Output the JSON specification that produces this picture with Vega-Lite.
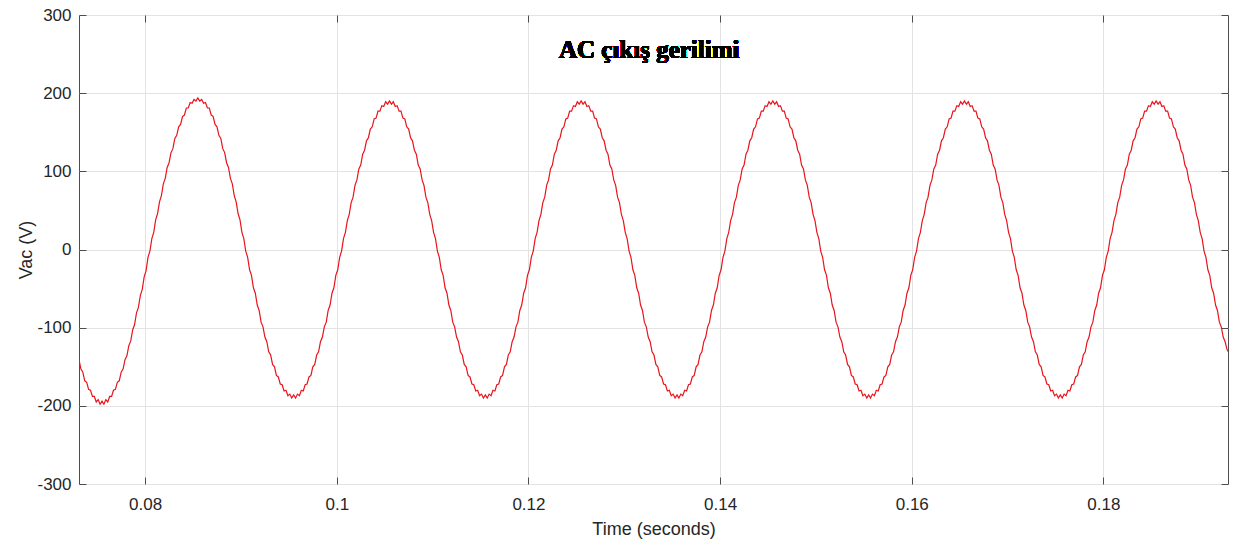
{
  "$schema": "https://vega.github.io/schema/vega-lite/v6.json",
  "width": 1149,
  "height": 469,
  "autosize": {"type": "none"},
  "padding": {"left": 79, "top": 15, "right": 9, "bottom": 62},
  "background": "white",
  "config": {
    "view": {"stroke": "#4d4d4d", "strokeWidth": 1},
    "axis": {
      "labelFont": "Liberation Sans",
      "labelFontSize": 17,
      "labelColor": "#262626",
      "titleFont": "Liberation Sans",
      "titleFontSize": 18,
      "titleFontWeight": "normal",
      "titleColor": "#262626",
      "gridColor": "#e3e3e3",
      "gridWidth": 1,
      "tickColor": "#4d4d4d",
      "tickSize": -7,
      "domain": false
    }
  },
  "data": {"values": [
    {"t":0.0731,"v":-141},{"t":0.0733,"v":-153},{"t":0.0735,"v":-157},{"t":0.0737,"v":-168},{"t":0.0739,"v":-170},
    {"t":0.0741,"v":-179},{"t":0.0743,"v":-180},{"t":0.0745,"v":-188},{"t":0.0747,"v":-188},{"t":0.0749,"v":-195},
    {"t":0.0751,"v":-192},{"t":0.0753,"v":-198},{"t":0.0755,"v":-194},{"t":0.0757,"v":-198},{"t":0.0759,"v":-192},
    {"t":0.0761,"v":-195},{"t":0.0763,"v":-188},{"t":0.0765,"v":-188},{"t":0.0767,"v":-180},{"t":0.0769,"v":-179},
    {"t":0.0771,"v":-170},{"t":0.0773,"v":-168},{"t":0.0775,"v":-157},{"t":0.0777,"v":-153},{"t":0.0779,"v":-141},
    {"t":0.0781,"v":-136},{"t":0.0783,"v":-123},{"t":0.0785,"v":-117},{"t":0.0787,"v":-103},{"t":0.0789,"v":-96},
    {"t":0.0791,"v":-81},{"t":0.0793,"v":-74},{"t":0.0795,"v":-59},{"t":0.0797,"v":-51},{"t":0.0799,"v":-35},
    {"t":0.0801,"v":-27},{"t":0.0803,"v":-10},{"t":0.0805,"v":-2},{"t":0.0807,"v":14},{"t":0.0809,"v":22},
    {"t":0.0811,"v":38},{"t":0.0813,"v":46},{"t":0.0815,"v":61},{"t":0.0817,"v":69},{"t":0.0819,"v":84},
    {"t":0.0821,"v":91},{"t":0.0823,"v":105},{"t":0.0825,"v":111},{"t":0.0827,"v":124},{"t":0.0829,"v":129},
    {"t":0.0831,"v":142},{"t":0.0833,"v":146},{"t":0.0835,"v":157},{"t":0.0837,"v":160},{"t":0.0839,"v":170},
    {"t":0.0841,"v":172},{"t":0.0843,"v":181},{"t":0.0845,"v":181},{"t":0.0847,"v":188},{"t":0.0849,"v":187},
    {"t":0.0851,"v":192},{"t":0.0853,"v":190},{"t":0.0855,"v":194},{"t":0.0857,"v":190},{"t":0.0859,"v":192},
    {"t":0.0861,"v":187},{"t":0.0863,"v":188},{"t":0.0865,"v":181},{"t":0.0867,"v":181},{"t":0.0869,"v":172},
    {"t":0.0871,"v":170},{"t":0.0873,"v":160},{"t":0.0875,"v":157},{"t":0.0877,"v":146},{"t":0.0879,"v":142},
    {"t":0.0881,"v":129},{"t":0.0883,"v":124},{"t":0.0885,"v":111},{"t":0.0887,"v":105},{"t":0.0889,"v":91},
    {"t":0.0891,"v":84},{"t":0.0893,"v":69},{"t":0.0895,"v":61},{"t":0.0897,"v":46},{"t":0.0899,"v":38},
    {"t":0.0901,"v":22},{"t":0.0903,"v":14},

    {"t":0.0905,"v":-2},{"t":0.0907,"v":-10},{"t":0.0909,"v":-26},{"t":0.0911,"v":-33},{"t":0.0913,"v":-49},
    {"t":0.0915,"v":-56},{"t":0.0917,"v":-71},{"t":0.0919,"v":-78},{"t":0.0921,"v":-93},{"t":0.0923,"v":-99},
    {"t":0.0925,"v":-112},{"t":0.0927,"v":-118},{"t":0.0929,"v":-131},{"t":0.0931,"v":-135},{"t":0.0933,"v":-147},
    {"t":0.0935,"v":-150},{"t":0.0937,"v":-161},{"t":0.0939,"v":-163},{"t":0.0941,"v":-172},{"t":0.0943,"v":-173},
    {"t":0.0945,"v":-181},{"t":0.0947,"v":-180},{"t":0.0949,"v":-187},{"t":0.0951,"v":-185},{"t":0.0953,"v":-190},
    {"t":0.0955,"v":-186},{"t":0.0957,"v":-190},{"t":0.0959,"v":-185},{"t":0.0961,"v":-187},{"t":0.0963,"v":-180},
    {"t":0.0965,"v":-181},{"t":0.0967,"v":-173},{"t":0.0969,"v":-172},{"t":0.0971,"v":-163},{"t":0.0973,"v":-161},
    {"t":0.0975,"v":-150},{"t":0.0977,"v":-147},{"t":0.0979,"v":-135},{"t":0.0981,"v":-131},{"t":0.0983,"v":-118},
    {"t":0.0985,"v":-112},{"t":0.0987,"v":-99},{"t":0.0989,"v":-93},{"t":0.0991,"v":-78},{"t":0.0993,"v":-71},
    {"t":0.0995,"v":-56},{"t":0.0997,"v":-49},{"t":0.0999,"v":-33},{"t":0.1001,"v":-26},{"t":0.1003,"v":-10},
    {"t":0.1005,"v":-2},{"t":0.1007,"v":14},{"t":0.1009,"v":22},{"t":0.1011,"v":37},{"t":0.1013,"v":45},
    {"t":0.1015,"v":60},{"t":0.1017,"v":67},{"t":0.1019,"v":82},{"t":0.1021,"v":89},{"t":0.1023,"v":103},
    {"t":0.1025,"v":108},{"t":0.1027,"v":122},{"t":0.1029,"v":127},{"t":0.1031,"v":139},{"t":0.1033,"v":143},
    {"t":0.1035,"v":154},{"t":0.1037,"v":157},{"t":0.1039,"v":167},{"t":0.1041,"v":168},{"t":0.1043,"v":177},
    {"t":0.1045,"v":177},{"t":0.1047,"v":184},{"t":0.1049,"v":183},{"t":0.1051,"v":189},{"t":0.1053,"v":186},
    {"t":0.1055,"v":190},{"t":0.1057,"v":186},{"t":0.1059,"v":189},{"t":0.1061,"v":183},{"t":0.1063,"v":184},
    {"t":0.1065,"v":177},{"t":0.1067,"v":177},{"t":0.1069,"v":168},{"t":0.1071,"v":167},{"t":0.1073,"v":157},
    {"t":0.1075,"v":154},{"t":0.1077,"v":143},{"t":0.1079,"v":139},{"t":0.1081,"v":127},{"t":0.1083,"v":122},
    {"t":0.1085,"v":108},{"t":0.1087,"v":103},{"t":0.1089,"v":89},{"t":0.1091,"v":82},{"t":0.1093,"v":67},
    {"t":0.1095,"v":60},{"t":0.1097,"v":45},{"t":0.1099,"v":37},{"t":0.1101,"v":22},{"t":0.1103,"v":14},

    {"t":0.1105,"v":-2},{"t":0.1107,"v":-10},{"t":0.1109,"v":-26},{"t":0.1111,"v":-33},{"t":0.1113,"v":-49},
    {"t":0.1115,"v":-56},{"t":0.1117,"v":-71},{"t":0.1119,"v":-78},{"t":0.1121,"v":-93},{"t":0.1123,"v":-99},
    {"t":0.1125,"v":-112},{"t":0.1127,"v":-118},{"t":0.1129,"v":-131},{"t":0.1131,"v":-135},{"t":0.1133,"v":-147},
    {"t":0.1135,"v":-150},{"t":0.1137,"v":-161},{"t":0.1139,"v":-163},{"t":0.1141,"v":-172},{"t":0.1143,"v":-173},
    {"t":0.1145,"v":-181},{"t":0.1147,"v":-180},{"t":0.1149,"v":-187},{"t":0.1151,"v":-185},{"t":0.1153,"v":-190},
    {"t":0.1155,"v":-186},{"t":0.1157,"v":-190},{"t":0.1159,"v":-185},{"t":0.1161,"v":-187},{"t":0.1163,"v":-180},
    {"t":0.1165,"v":-181},{"t":0.1167,"v":-173},{"t":0.1169,"v":-172},{"t":0.1171,"v":-163},{"t":0.1173,"v":-161},
    {"t":0.1175,"v":-150},{"t":0.1177,"v":-147},{"t":0.1179,"v":-135},{"t":0.1181,"v":-131},{"t":0.1183,"v":-118},
    {"t":0.1185,"v":-112},{"t":0.1187,"v":-99},{"t":0.1189,"v":-93},{"t":0.1191,"v":-78},{"t":0.1193,"v":-71},
    {"t":0.1195,"v":-56},{"t":0.1197,"v":-49},{"t":0.1199,"v":-33},{"t":0.1201,"v":-26},{"t":0.1203,"v":-10},
    {"t":0.1205,"v":-2},{"t":0.1207,"v":14},{"t":0.1209,"v":22},{"t":0.1211,"v":37},{"t":0.1213,"v":45},
    {"t":0.1215,"v":60},{"t":0.1217,"v":67},{"t":0.1219,"v":82},{"t":0.1221,"v":89},{"t":0.1223,"v":103},
    {"t":0.1225,"v":108},{"t":0.1227,"v":122},{"t":0.1229,"v":127},{"t":0.1231,"v":139},{"t":0.1233,"v":143},
    {"t":0.1235,"v":154},{"t":0.1237,"v":157},{"t":0.1239,"v":167},{"t":0.1241,"v":168},{"t":0.1243,"v":177},
    {"t":0.1245,"v":177},{"t":0.1247,"v":184},{"t":0.1249,"v":183},{"t":0.1251,"v":189},{"t":0.1253,"v":186},
    {"t":0.1255,"v":190},{"t":0.1257,"v":186},{"t":0.1259,"v":189},{"t":0.1261,"v":183},{"t":0.1263,"v":184},
    {"t":0.1265,"v":177},{"t":0.1267,"v":177},{"t":0.1269,"v":168},{"t":0.1271,"v":167},{"t":0.1273,"v":157},
    {"t":0.1275,"v":154},{"t":0.1277,"v":143},{"t":0.1279,"v":139},{"t":0.1281,"v":127},{"t":0.1283,"v":122},
    {"t":0.1285,"v":108},{"t":0.1287,"v":103},{"t":0.1289,"v":89},{"t":0.1291,"v":82},{"t":0.1293,"v":67},
    {"t":0.1295,"v":60},{"t":0.1297,"v":45},{"t":0.1299,"v":37},{"t":0.1301,"v":22},{"t":0.1303,"v":14},

    {"t":0.1305,"v":-2},{"t":0.1307,"v":-10},{"t":0.1309,"v":-26},{"t":0.1311,"v":-33},{"t":0.1313,"v":-49},
    {"t":0.1315,"v":-56},{"t":0.1317,"v":-71},{"t":0.1319,"v":-78},{"t":0.1321,"v":-93},{"t":0.1323,"v":-99},
    {"t":0.1325,"v":-112},{"t":0.1327,"v":-118},{"t":0.1329,"v":-131},{"t":0.1331,"v":-135},{"t":0.1333,"v":-147},
    {"t":0.1335,"v":-150},{"t":0.1337,"v":-161},{"t":0.1339,"v":-163},{"t":0.1341,"v":-172},{"t":0.1343,"v":-173},
    {"t":0.1345,"v":-181},{"t":0.1347,"v":-180},{"t":0.1349,"v":-187},{"t":0.1351,"v":-185},{"t":0.1353,"v":-190},
    {"t":0.1355,"v":-186},{"t":0.1357,"v":-190},{"t":0.1359,"v":-185},{"t":0.1361,"v":-187},{"t":0.1363,"v":-180},
    {"t":0.1365,"v":-181},{"t":0.1367,"v":-173},{"t":0.1369,"v":-172},{"t":0.1371,"v":-163},{"t":0.1373,"v":-161},
    {"t":0.1375,"v":-150},{"t":0.1377,"v":-147},{"t":0.1379,"v":-135},{"t":0.1381,"v":-131},{"t":0.1383,"v":-118},
    {"t":0.1385,"v":-112},{"t":0.1387,"v":-99},{"t":0.1389,"v":-93},{"t":0.1391,"v":-78},{"t":0.1393,"v":-71},
    {"t":0.1395,"v":-56},{"t":0.1397,"v":-49},{"t":0.1399,"v":-33},{"t":0.1401,"v":-26},{"t":0.1403,"v":-10},
    {"t":0.1405,"v":-2},{"t":0.1407,"v":14},{"t":0.1409,"v":22},{"t":0.1411,"v":37},{"t":0.1413,"v":45},
    {"t":0.1415,"v":60},{"t":0.1417,"v":67},{"t":0.1419,"v":82},{"t":0.1421,"v":89},{"t":0.1423,"v":103},
    {"t":0.1425,"v":108},{"t":0.1427,"v":122},{"t":0.1429,"v":127},{"t":0.1431,"v":139},{"t":0.1433,"v":143},
    {"t":0.1435,"v":154},{"t":0.1437,"v":157},{"t":0.1439,"v":167},{"t":0.1441,"v":168},{"t":0.1443,"v":177},
    {"t":0.1445,"v":177},{"t":0.1447,"v":184},{"t":0.1449,"v":183},{"t":0.1451,"v":189},{"t":0.1453,"v":186},
    {"t":0.1455,"v":190},{"t":0.1457,"v":186},{"t":0.1459,"v":189},{"t":0.1461,"v":183},{"t":0.1463,"v":184},
    {"t":0.1465,"v":177},{"t":0.1467,"v":177},{"t":0.1469,"v":168},{"t":0.1471,"v":167},{"t":0.1473,"v":157},
    {"t":0.1475,"v":154},{"t":0.1477,"v":143},{"t":0.1479,"v":139},{"t":0.1481,"v":127},{"t":0.1483,"v":122},
    {"t":0.1485,"v":108},{"t":0.1487,"v":103},{"t":0.1489,"v":89},{"t":0.1491,"v":82},{"t":0.1493,"v":67},
    {"t":0.1495,"v":60},{"t":0.1497,"v":45},{"t":0.1499,"v":37},{"t":0.1501,"v":22},{"t":0.1503,"v":14},

    {"t":0.1505,"v":-2},{"t":0.1507,"v":-10},{"t":0.1509,"v":-26},{"t":0.1511,"v":-33},{"t":0.1513,"v":-49},
    {"t":0.1515,"v":-56},{"t":0.1517,"v":-71},{"t":0.1519,"v":-78},{"t":0.1521,"v":-93},{"t":0.1523,"v":-99},
    {"t":0.1525,"v":-112},{"t":0.1527,"v":-118},{"t":0.1529,"v":-131},{"t":0.1531,"v":-135},{"t":0.1533,"v":-147},
    {"t":0.1535,"v":-150},{"t":0.1537,"v":-161},{"t":0.1539,"v":-163},{"t":0.1541,"v":-172},{"t":0.1543,"v":-173},
    {"t":0.1545,"v":-181},{"t":0.1547,"v":-180},{"t":0.1549,"v":-187},{"t":0.1551,"v":-185},{"t":0.1553,"v":-190},
    {"t":0.1555,"v":-186},{"t":0.1557,"v":-190},{"t":0.1559,"v":-185},{"t":0.1561,"v":-187},{"t":0.1563,"v":-180},
    {"t":0.1565,"v":-181},{"t":0.1567,"v":-173},{"t":0.1569,"v":-172},{"t":0.1571,"v":-163},{"t":0.1573,"v":-161},
    {"t":0.1575,"v":-150},{"t":0.1577,"v":-147},{"t":0.1579,"v":-135},{"t":0.1581,"v":-131},{"t":0.1583,"v":-118},
    {"t":0.1585,"v":-112},{"t":0.1587,"v":-99},{"t":0.1589,"v":-93},{"t":0.1591,"v":-78},{"t":0.1593,"v":-71},
    {"t":0.1595,"v":-56},{"t":0.1597,"v":-49},{"t":0.1599,"v":-33},{"t":0.1601,"v":-26},{"t":0.1603,"v":-10},
    {"t":0.1605,"v":-2},{"t":0.1607,"v":14},{"t":0.1609,"v":22},{"t":0.1611,"v":37},{"t":0.1613,"v":45},
    {"t":0.1615,"v":60},{"t":0.1617,"v":67},{"t":0.1619,"v":82},{"t":0.1621,"v":89},{"t":0.1623,"v":103},
    {"t":0.1625,"v":108},{"t":0.1627,"v":122},{"t":0.1629,"v":127},{"t":0.1631,"v":139},{"t":0.1633,"v":143},
    {"t":0.1635,"v":154},{"t":0.1637,"v":157},{"t":0.1639,"v":167},{"t":0.1641,"v":168},{"t":0.1643,"v":177},
    {"t":0.1645,"v":177},{"t":0.1647,"v":184},{"t":0.1649,"v":183},{"t":0.1651,"v":189},{"t":0.1653,"v":186},
    {"t":0.1655,"v":190},{"t":0.1657,"v":186},{"t":0.1659,"v":189},{"t":0.1661,"v":183},{"t":0.1663,"v":184},
    {"t":0.1665,"v":177},{"t":0.1667,"v":177},{"t":0.1669,"v":168},{"t":0.1671,"v":167},{"t":0.1673,"v":157},
    {"t":0.1675,"v":154},{"t":0.1677,"v":143},{"t":0.1679,"v":139},{"t":0.1681,"v":127},{"t":0.1683,"v":122},
    {"t":0.1685,"v":108},{"t":0.1687,"v":103},{"t":0.1689,"v":89},{"t":0.1691,"v":82},{"t":0.1693,"v":67},
    {"t":0.1695,"v":60},{"t":0.1697,"v":45},{"t":0.1699,"v":37},{"t":0.1701,"v":22},{"t":0.1703,"v":14},

    {"t":0.1705,"v":-2},{"t":0.1707,"v":-10},{"t":0.1709,"v":-26},{"t":0.1711,"v":-33},{"t":0.1713,"v":-49},
    {"t":0.1715,"v":-56},{"t":0.1717,"v":-71},{"t":0.1719,"v":-78},{"t":0.1721,"v":-93},{"t":0.1723,"v":-99},
    {"t":0.1725,"v":-112},{"t":0.1727,"v":-118},{"t":0.1729,"v":-131},{"t":0.1731,"v":-135},{"t":0.1733,"v":-147},
    {"t":0.1735,"v":-150},{"t":0.1737,"v":-161},{"t":0.1739,"v":-163},{"t":0.1741,"v":-172},{"t":0.1743,"v":-173},
    {"t":0.1745,"v":-181},{"t":0.1747,"v":-180},{"t":0.1749,"v":-187},{"t":0.1751,"v":-185},{"t":0.1753,"v":-190},
    {"t":0.1755,"v":-186},{"t":0.1757,"v":-190},{"t":0.1759,"v":-185},{"t":0.1761,"v":-187},{"t":0.1763,"v":-180},
    {"t":0.1765,"v":-181},{"t":0.1767,"v":-173},{"t":0.1769,"v":-172},{"t":0.1771,"v":-163},{"t":0.1773,"v":-161},
    {"t":0.1775,"v":-150},{"t":0.1777,"v":-147},{"t":0.1779,"v":-135},{"t":0.1781,"v":-131},{"t":0.1783,"v":-118},
    {"t":0.1785,"v":-112},{"t":0.1787,"v":-99},{"t":0.1789,"v":-93},{"t":0.1791,"v":-78},{"t":0.1793,"v":-71},
    {"t":0.1795,"v":-56},{"t":0.1797,"v":-49},{"t":0.1799,"v":-33},{"t":0.1801,"v":-26},{"t":0.1803,"v":-10},
    {"t":0.1805,"v":-2},{"t":0.1807,"v":14},{"t":0.1809,"v":22},{"t":0.1811,"v":37},{"t":0.1813,"v":45},
    {"t":0.1815,"v":60},{"t":0.1817,"v":67},{"t":0.1819,"v":82},{"t":0.1821,"v":89},{"t":0.1823,"v":103},
    {"t":0.1825,"v":108},{"t":0.1827,"v":122},{"t":0.1829,"v":127},{"t":0.1831,"v":139},{"t":0.1833,"v":143},
    {"t":0.1835,"v":154},{"t":0.1837,"v":157},{"t":0.1839,"v":167},{"t":0.1841,"v":168},{"t":0.1843,"v":177},
    {"t":0.1845,"v":177},{"t":0.1847,"v":184},{"t":0.1849,"v":183},{"t":0.1851,"v":189},{"t":0.1853,"v":186},
    {"t":0.1855,"v":190},{"t":0.1857,"v":186},{"t":0.1859,"v":189},{"t":0.1861,"v":183},{"t":0.1863,"v":184},
    {"t":0.1865,"v":177},{"t":0.1867,"v":177},{"t":0.1869,"v":168},{"t":0.1871,"v":167},{"t":0.1873,"v":157},
    {"t":0.1875,"v":154},{"t":0.1877,"v":143},{"t":0.1879,"v":139},{"t":0.1881,"v":127},{"t":0.1883,"v":122},
    {"t":0.1885,"v":108},{"t":0.1887,"v":103},{"t":0.1889,"v":89},{"t":0.1891,"v":82},{"t":0.1893,"v":67},
    {"t":0.1895,"v":60},{"t":0.1897,"v":45},{"t":0.1899,"v":37},{"t":0.1901,"v":22},{"t":0.1903,"v":14},

    {"t":0.1905,"v":-2},{"t":0.1907,"v":-10},{"t":0.1909,"v":-26},{"t":0.1911,"v":-33},{"t":0.1913,"v":-49},
    {"t":0.1915,"v":-56},{"t":0.1917,"v":-71},{"t":0.1919,"v":-78},{"t":0.1921,"v":-93},{"t":0.1923,"v":-99},
    {"t":0.1925,"v":-112},{"t":0.1927,"v":-118},{"t":0.1929,"v":-128},{"t":0.1931,"v":-132}
  ]},
  "layer": [
    {
      "mark": {"type": "line", "color": "#e8141c", "strokeWidth": 1.2, "clip": true},
      "encoding": {
        "x": {
          "field": "t", "type": "quantitative",
          "scale": {"domain": [0.0731, 0.193], "nice": false, "zero": false},
          "axis": {
            "orient": "bottom",
            "values": [0.08, 0.1, 0.12, 0.14, 0.16, 0.18],
            "format": ".2~f",
            "title": "Time (seconds)",
            "grid": true,
            "labelPadding": 19,
            "titlePadding": 8,
            "labelFlush": false
          }
        },
        "y": {
          "field": "v", "type": "quantitative",
          "scale": {"domain": [-300, 300], "nice": false, "zero": false},
          "axis": {
            "orient": "left",
            "values": [-300, -200, -100, 0, 100, 200, 300],
            "labelExpr": "'' + datum.value",
            "title": "Vac (V)",
            "grid": true,
            "labelPadding": 15,
            "titlePadding": 1
          }
        }
      }
    },
    {
      "mark": {"type": "text", "font": "Liberation Serif", "fontWeight": "bold", "fontSize": 25, "color": "black", "align": "center", "baseline": "alphabetic"},
      "encoding": {
        "x": {
          "datum": 0.1326, "type": "quantitative",
          "axis": {"orient": "top", "values": [0.08, 0.1, 0.12, 0.14, 0.16, 0.18], "labels": false, "title": null, "grid": false}
        },
        "y": {
          "datum": 245, "type": "quantitative",
          "axis": {"orient": "right", "values": [-300, -200, -100, 0, 100, 200, 300], "labels": false, "title": null, "grid": false}
        },
        "text": {"value": "AC çıkış gerilimi"}
      }
    }
  ],
  "resolve": {"axis": {"x": "independent", "y": "independent"}}
}
